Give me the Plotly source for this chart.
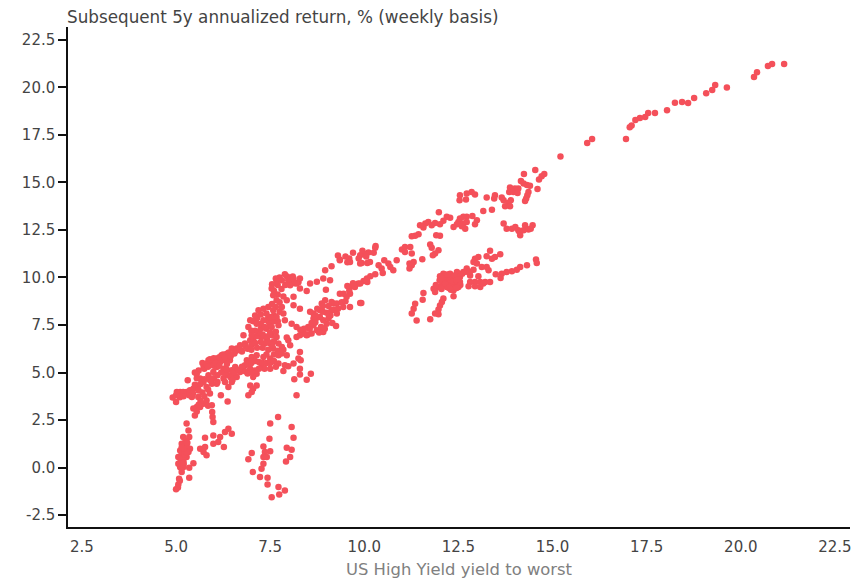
import plotly.graph_objects as go

# (yield to worst, subsequent 5y return), grouped by visual cluster
top_tail = [(21.15,21.23),(20.83,21.23),(20.72,21.13),(20.43,20.8),(20.35,20.55),(19.63,20.0),(19.32,20.13),(19.24,19.86),(19.08,19.7),(18.76,19.44),(18.6,19.18),(18.44,19.23),(18.25,19.2),(18.04,18.8),(17.72,18.65),(17.54,18.65),(17.46,18.44),(17.32,18.39),(17.2,18.28),(17.1,18.0),(17.05,17.9),(16.95,17.28),(16.05,17.28),(15.92,17.07)]
upper_band = [(15.21,16.37),(14.54,15.65),(14.24,15.45),(14.78,15.44),(14.71,15.33),(14.64,15.15),(14.16,15.07),(14.23,14.94),(14.32,14.86),(14.40,14.82),(14.60,14.66),(14.36,14.50),(14.33,14.33),(14.30,14.15),(14.27,14.03),(14.09,14.68),(14.00,14.68),(13.87,14.73),(13.85,14.50),(13.96,14.50),(14.07,14.45),(13.65,14.21),(13.70,14.07),(13.89,14.07),(13.83,13.93),(13.74,13.75),(13.87,13.75),(13.39,13.57),(13.16,13.50),(13.47,14.33),(13.45,14.15),(13.25,14.21),(12.85,14.50),(12.94,14.36),(12.72,14.42),(12.70,14.10),(12.54,14.33),(12.53,14.07),(11.98,13.43)]
mid_band = [(12.99,13.01),(12.94,12.80),(12.87,13.24),(12.72,13.19),(12.63,13.19),(12.54,13.10),(12.50,12.92),(12.63,12.84),(12.72,12.92),(12.59,12.70),(12.68,12.57),(12.37,12.66),(12.46,12.80),(12.28,13.14),(12.19,13.19),(12.10,12.98),(12.01,12.80),(11.88,12.87),(11.79,12.75),(11.70,12.92),(11.62,12.84),(11.57,12.63),(11.48,12.75),(11.44,12.27),(11.35,12.19),(11.26,12.17),(12.01,12.19),(11.91,12.22),(11.75,11.73),(11.79,11.57),(11.97,11.43),(11.88,11.26),(11.82,11.17),(11.54,10.96),(11.26,11.26),(11.31,10.82),(11.20,10.73),(11.26,10.64),(11.20,10.47),(11.08,11.61),(11.22,11.61),(11.00,11.47),(11.08,11.34),(10.86,10.91),(10.53,10.91),(10.64,10.73),(10.69,10.55),(10.77,10.38),(10.38,10.64),(10.46,10.47),(10.49,10.24),(10.29,10.17),(10.16,10.06),(10.07,9.94),(9.98,9.82),(10.08,9.76),(9.89,9.68),(10.29,11.57),(10.11,11.31),(9.98,11.26),(9.89,11.17),(10.08,10.76),(9.93,10.76),(9.92,8.66),(10.3,11.65),(10.25,11.3),(10.05,11.1),(9.95,11.4),(9.85,11.0),(9.7,11.3),(9.6,11.0),(9.5,11.1),(9.35,10.95),(9.3,11.15),(9.55,10.8)]
side_band = [(13.70,12.84),(13.78,12.57),(13.92,12.57),(14.01,12.66),(14.09,12.49),(14.14,12.22),(14.12,12.40),(14.27,12.75),(14.23,12.49),(14.36,12.52),(14.47,12.75),(14.42,12.57)]
lower_band = [(14.56,10.94),(14.58,10.76),(14.32,10.64),(14.14,10.55),(14.05,10.41),(13.92,10.33),(13.78,10.29),(13.65,10.20),(13.49,10.17),(13.62,9.97),(13.34,11.40),(13.61,11.22),(13.47,11.08),(13.39,10.99),(13.25,11.12),(13.03,11.08),(12.94,10.99),(12.90,10.82),(12.99,10.73),(13.25,10.55),(13.30,10.38),(13.12,10.55),(12.90,10.41),(12.72,10.47),(12.63,10.29),(12.46,10.29),(12.28,10.20),(12.10,10.20),(12.01,10.06),(12.19,9.94),(12.37,10.03),(12.54,10.03),(12.32,9.82),(12.10,9.76),(12.46,9.68),(12.28,9.59),(12.19,9.50),(12.06,9.59),(11.97,9.50),(11.84,9.41),(11.88,9.24),(12.37,9.33),(12.54,9.76),(12.81,9.76),(12.94,9.76),(13.08,9.76),(13.21,9.76),(13.34,9.76),(12.77,9.54),(12.94,9.54),(13.08,9.50),(13.16,9.68),(12.37,9.01),(11.57,9.18),(11.55,8.83),(12.10,8.89),(12.06,8.71),(12.01,8.53),(11.97,8.31),(11.88,8.10),(11.97,8.06),(11.35,8.62),(11.31,8.36),(11.26,8.10),(11.39,7.74),(11.75,7.80),(13.03,10.06),(12.81,10.11),(12.2,9.8),(12.3,10.0),(12.4,9.7),(12.5,9.5),(12.35,9.5),(12.15,10.1),(12.4,9.9)]
lower_dense = [(11.9,9.6),(12.0,9.85),(12.1,10.0),(12.2,10.15),(12.25,9.7),(12.3,9.35),(12.35,9.8),(12.4,10.1),(12.45,9.85),(12.5,9.9),(12.55,9.6),(12.15,9.65),(12.05,9.4),(12.45,9.45),(12.25,9.45),(12.6,10.2),(12.7,10.3),(12.8,10.3)]
low_column = [(5.00,-1.15),(5.06,-0.89),(5.08,-0.59),(5.35,-0.54),(5.15,-0.24),(5.11,0.02),(5.35,-0.01),(5.46,0.23),(5.06,0.55),(5.19,0.37),(5.15,0.73),(5.28,0.55),(5.24,0.90),(5.37,0.99),(5.15,1.25),(5.28,1.16),(5.19,1.60),(5.35,1.60),(5.33,1.95),(5.28,2.31),(5.06,0.20),(5.19,0.02),(5.11,0.90),(5.24,0.55),(5.33,0.81),(5.05,-1.05),(5.1,-0.7),(5.12,0.3),(5.2,0.15),(5.15,0.5),(5.22,0.7),(5.28,0.8),(5.2,1.0),(5.15,1.05),(5.25,1.4),(5.3,1.3),(5.2,0.25)]
low_cluster = [(5.64,0.99),(5.73,0.81),(5.81,0.64),(5.77,1.08),(5.99,1.25),(6.12,1.34),(6.27,1.08),(6.17,1.60),(6.30,1.87),(6.39,2.04),(6.48,1.78),(5.99,1.69),(5.77,1.57),(5.96,2.92),(5.97,2.66),(5.99,2.39)]
low_mid = [(7.01,0.76),(6.92,0.43),(7.32,1.11),(7.36,0.81),(7.50,0.85),(7.32,0.55),(7.41,0.55),(7.32,0.20),(7.27,-0.07),(7.04,-0.24),(7.23,-0.50),(7.43,-0.54),(7.43,-0.89),(7.72,-1.03),(7.89,-1.21),(7.74,-1.42),(7.54,-1.56),(7.48,1.51),(7.50,2.31),(7.71,2.66),(8.07,2.13),(8.12,1.57),(7.94,1.04),(8.07,0.94),(8.03,0.55),(7.92,0.32)]
left_band = [(4.91,3.68),(5.02,3.97),(5.11,3.97),(5.19,3.97),(5.28,3.97),(5.00,3.45),(5.37,4.06),(5.46,4.15),(5.31,4.59),(5.42,3.71),(5.59,3.71),(5.55,3.18),(5.64,3.18),(5.50,2.74),(5.46,3.10),(5.73,3.36),(5.81,3.53),(5.95,3.27),(6.19,3.80),(6.37,3.48),(5.90,3.89),(5.81,4.24),(5.55,4.94),(5.64,4.68),(5.73,5.29),(5.86,5.64),(5.95,5.47),(6.08,5.73),(6.21,5.91),(6.35,5.99),(6.48,6.26),(6.61,6.26),(6.70,6.43),(6.83,6.52),(6.97,6.70),(7.05,6.70),(7.14,6.91),(7.27,6.87),(7.41,6.78),(7.54,6.96),(7.67,6.87),(7.72,6.52),(7.50,6.52),(7.36,6.52),(7.58,6.26),(7.81,6.34),(7.72,5.91),(7.50,5.73),(7.32,5.82),(7.14,5.91),(7.01,5.82),(6.88,5.64),(6.83,5.38),(6.97,5.20),(7.14,4.94),(7.05,4.76),(7.27,5.29),(7.50,5.20),(7.72,5.47),(7.85,5.08),(7.94,5.91),(6.08,5.29),(5.99,5.03),(5.86,4.85),(5.73,4.50),(5.59,4.32),(5.95,4.41),(6.08,4.41),(6.26,4.68),(6.39,4.85),(6.52,4.85),(6.61,4.76),(6.70,5.03),(6.79,5.12),(6.39,4.24),(6.48,4.50),(6.30,5.64),(6.43,5.64),(6.57,5.29),(6.48,5.12),(6.26,5.20),(6.17,5.55),(5.99,5.55),(6.97,4.32),(7.14,4.32),(7.05,4.15),(6.92,3.80),(7.01,3.97),(8.20,3.80),(8.47,4.62),(8.58,4.94),(8.29,4.90),(8.14,4.64),(8.29,5.20),(8.12,5.47),(7.98,5.33),(7.89,5.38),(8.25,5.73),(8.31,5.64),(8.29,6.08),(8.03,6.43),(7.98,6.70),(7.94,6.84),(8.20,6.87),(8.29,6.96),(8.38,7.13),(8.20,7.40),(8.07,7.57),(7.89,7.75)]
upper_stripe = [(5.6,5.1),(5.7,5.5),(5.75,5.2),(5.8,5.45),(5.85,5.3),(5.9,5.7),(6.0,5.75),(6.0,5.35),(6.05,5.5),(6.15,5.8),(6.15,5.35),(6.25,5.95),(6.3,5.8),(6.35,5.45),(6.4,6.05),(6.45,5.85),(6.55,6.0),(6.6,6.15),(6.7,6.2),(6.75,6.1),(6.85,6.35),(6.9,6.25),(7.0,6.45),(7.0,6.2),(7.1,6.55),(7.15,6.3),(7.25,6.6),(7.3,6.3),(7.4,6.9),(7.45,6.2),(7.5,7.1),(7.6,6.65),(7.65,7.15),(7.55,6.45),(7.45,6.6),(7.3,7.0),(7.2,7.1),(7.1,7.2),(7.25,7.3),(7.4,7.3),(7.5,7.5),(7.6,7.7),(7.45,7.7),(7.25,7.55),(7.15,7.85),(7.05,7.7),(7.0,7.2),(7.1,8.0),(7.25,8.05),(7.4,8.1),(7.45,7.9),(7.6,8.0),(7.7,7.7),(7.75,8.2),(7.65,8.45),(7.55,8.6),(7.75,8.7),(7.7,9.1),(7.85,9.0),(7.8,9.4),(7.7,9.6),(7.9,9.6),(8.05,9.75),(8.15,9.7),(8.25,9.75),(8.1,10.05),(7.95,10.05),(7.75,10.0),(7.6,9.3),(7.65,9.95),(7.55,9.65)]
lower_stripe = [(6.0,4.7),(6.1,4.85),(6.2,5.0),(6.3,4.95),(6.35,5.15),(6.45,4.75),(6.55,5.0),(6.65,5.15),(6.75,5.3),(6.85,5.05),(6.9,5.45),(7.0,5.5),(7.1,5.6),(7.2,5.55),(7.3,5.5),(7.4,5.5),(7.5,5.5),(7.6,5.6),(7.65,5.3),(7.35,5.2),(7.2,5.2),(7.1,5.1),(7.0,5.0),(6.9,4.95),(7.4,5.95),(7.6,5.95),(7.7,6.15),(7.85,6.2),(7.8,6.0),(6.5,4.6),(6.3,4.5),(6.1,4.5),(5.85,4.1),(5.7,3.95),(5.6,4.05),(5.5,4.35),(5.45,3.9),(5.35,3.8),(5.2,3.75),(5.1,3.7),(5.0,3.8),(5.75,3.75),(5.65,3.5),(5.6,3.3),(5.85,3.25),(5.55,2.95),(5.65,4.4),(5.5,5.0),(5.55,4.7),(5.75,4.65),(5.9,4.6)]
upper_lobe = [(6.97,7.75),(6.92,7.40),(6.79,6.96),(7.01,6.96),(7.19,8.28),(7.32,8.36),(7.45,8.45),(7.58,8.28),(7.50,7.92),(7.32,7.75),(7.14,7.57),(7.36,7.40),(7.54,7.40),(7.72,7.49),(7.67,7.92),(7.85,8.10),(7.81,8.45),(7.94,8.80),(7.67,8.80),(7.58,9.07),(7.54,9.42),(7.67,9.77),(7.89,10.17),(7.81,9.86),(7.98,9.86),(8.12,9.94),(8.29,9.94),(8.20,9.68),(8.03,9.59),(8.29,9.42),(8.12,8.98),(8.12,8.54),(8.29,8.36),(8.56,9.68),(8.47,9.29),(8.74,9.77),(8.91,9.94),(9.09,9.86),(8.96,10.38),(9.13,10.59),(8.98,9.36),(9.35,10.91),(9.62,10.82),(9.89,10.73),(10.15,10.82)]
right_arm = [(8.51,7.40),(8.65,7.84),(8.82,8.28),(8.96,8.80),(9.18,8.63),(9.35,9.15),(9.62,9.50),(9.84,9.68),(10.06,9.86),(9.62,9.15),(9.89,8.66),(9.25,7.45),(8.91,7.13),(8.74,7.22),(8.65,7.49),(9.00,7.57),(9.27,8.10),(9.44,8.45),(9.62,8.45),(8.65,8.10),(8.91,7.75),(8.56,8.19),(9.13,8.28),(8.87,8.63),(8.47,6.96),(8.82,7.92),(9.13,8.71),(9.53,8.98),(9.27,8.63),(8.5,7.0),(8.55,7.3),(8.6,7.6),(8.7,7.65),(8.75,7.9),(8.85,7.4),(8.95,7.3),(8.8,7.1),(9.05,7.85),(9.1,8.0),(9.0,8.15),(8.9,8.2),(8.7,8.0),(8.75,8.35),(8.9,8.5),(9.05,8.5),(9.2,8.3),(9.3,8.35),(9.4,8.7),(9.5,8.75),(9.45,9.15),(9.6,9.3),(9.75,9.5),(9.55,9.55),(9.7,9.7),(9.15,7.6),(8.6,7.05),(8.4,7.3),(8.45,7.0),(8.3,7.25)]

clusters = [top_tail, upper_band, mid_band, side_band, lower_band, lower_dense, low_column, low_cluster, low_mid, left_band, upper_stripe, lower_stripe, upper_lobe, right_arm]
xs = [p[0] for c in clusters for p in c]
ys = [p[1] for c in clusters for p in c]

tick_vals = [-2.5, 0, 2.5, 5, 7.5, 10, 12.5, 15, 17.5, 20, 22.5]
y_labels = ["-2.5", "0.0", "2.5", "5.0", "7.5", "10.0", "12.5", "15.0", "17.5", "20.0", "22.5"]
x_vals = [2.5, 5, 7.5, 10, 12.5, 15, 17.5, 20, 22.5]
x_labels = ["2.5", "5.0", "7.5", "10.0", "12.5", "15.0", "17.5", "20.0", "22.5"]

FONT = "DejaVu Sans"
fig = go.Figure(go.Scatter(x=xs, y=ys, mode="markers",
                           marker=dict(color="#f4505a", size=6.5, line=dict(width=0))))
fig.update_layout(
    width=860, height=572, autosize=False, showlegend=False,
    paper_bgcolor="white", plot_bgcolor="white",
    margin=dict(l=60, r=18, t=19, b=53),
    font=dict(family=FONT, size=15, color="#444"),
    annotations=[
        dict(text="Subsequent 5y annualized return, % (weekly basis)", xref="paper", yref="paper",
             x=0, y=1, xanchor="left", yanchor="bottom", xshift=-2, yshift=-1, showarrow=False, borderpad=0,
             font=dict(family=FONT, size=16.8, color="#444")),
        dict(text="US High Yield yield to worst", xref="paper", yref="paper",
             x=0.5, y=0, xanchor="center", yanchor="top", yshift=-32, showarrow=False, borderpad=0,
             font=dict(family=FONT, size=16.4, color="#808080")),
    ],
)
fig.update_xaxes(range=[2.13, 22.9], tickvals=x_vals, ticktext=x_labels, showgrid=False, zeroline=False,
                 showline=True, linecolor="#111", linewidth=1.5, ticks="outside", ticklen=5,
                 tickcolor="rgba(0,0,0,0)")
fig.update_yaxes(range=[-3.13, 23.18], tickvals=tick_vals, ticktext=y_labels, showgrid=False, zeroline=False,
                 showline=True, linecolor="#111", linewidth=1.5, ticks="outside", ticklen=8,
                 tickwidth=1.5, tickcolor="#111")
fig.write_html("out.html")
